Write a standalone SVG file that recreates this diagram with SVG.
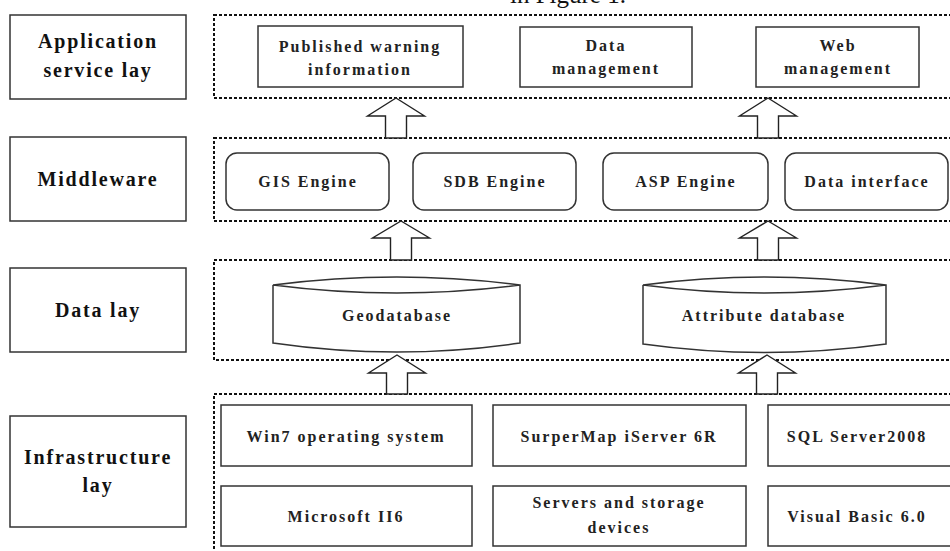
<svg xmlns="http://www.w3.org/2000/svg" width="950" height="551" viewBox="0 0 950 551">
<style>
.lbl{fill:#fff;stroke:#333;stroke-width:1.5}
.box{fill:#fff;stroke:#333;stroke-width:1.5}
.cont{fill:none;stroke:#111;stroke-width:2;stroke-dasharray:3 2}
.arr{fill:#fff;stroke:#222;stroke-width:1.4}
.lt{font-family:"Liberation Serif",serif;font-weight:bold;font-size:20px;letter-spacing:1.8px;text-anchor:middle;fill:#111}
.t{font-family:"Liberation Serif",serif;font-weight:bold;font-size:16px;letter-spacing:2px;text-anchor:middle;fill:#222}
</style>
<rect width="950" height="551" fill="#fff"/>
<text x="510" y="3" font-family="Liberation Serif,serif" font-size="25" fill="#111">in Figure 1.</text>

<g id="containers">
<rect class="cont" x="214" y="15" width="750" height="83"/>
<rect class="cont" x="214" y="138" width="750" height="83"/>
<rect class="cont" x="214" y="260" width="750" height="100"/>
<rect class="cont" x="214" y="394" width="750" height="170"/>
</g>

<g id="layer-app"><rect class="lbl" x="10" y="15" width="176" height="84"/><text class="lt" x="98" y="48">Application</text><text class="lt" x="98" y="77">service lay</text></g>
<g id="layer-mid"><rect class="lbl" x="10" y="137" width="176" height="84"/><text class="lt" x="98" y="186">Middleware</text></g>
<g id="layer-data"><rect class="lbl" x="10" y="268" width="176" height="84"/><text class="lt" x="98" y="317">Data lay</text></g>
<g id="layer-infra"><rect class="lbl" x="10" y="416" width="176" height="111"/><text class="lt" x="98" y="464">Infrastructure</text><text class="lt" x="98" y="492">lay</text></g>

<g id="n-pub"><rect class="box" x="258" y="26" width="205" height="61"/><text class="t" x="360" y="52">Published warning</text><text class="t" x="360" y="75">information</text></g>
<g id="n-dm"><rect class="box" x="520" y="27" width="172" height="60"/><text class="t" x="606" y="51">Data</text><text class="t" x="606" y="74">management</text></g>
<g id="n-wm"><rect class="box" x="756" y="27" width="163" height="60"/><text class="t" x="838" y="51">Web</text><text class="t" x="838" y="74">management</text></g>

<g id="n-gis"><rect class="box" x="226" y="153" width="163" height="57" rx="11"/><text class="t" x="308" y="187">GIS Engine</text></g>
<g id="n-sdb"><rect class="box" x="413" y="153" width="163" height="57" rx="11"/><text class="t" x="495" y="187">SDB Engine</text></g>
<g id="n-asp"><rect class="box" x="603" y="153" width="165" height="57" rx="11"/><text class="t" x="686" y="187">ASP Engine</text></g>
<g id="n-di"><rect class="box" x="785" y="153" width="163" height="57" rx="11"/><text class="t" x="867" y="187">Data interface</text></g>

<g id="n-geo"><path class="box" d="M273,285 L273,343 Q397,361 520,343 L520,285 Q397,269 273,285 Q397,301 520,285"/><text class="t" x="397" y="321">Geodatabase</text></g>
<g id="n-attr"><path class="box" d="M643,285 L643,344 Q764,361 886,344 L886,285 Q764,269 643,285 Q764,301 886,285"/><text class="t" x="764" y="321">Attribute database</text></g>

<g id="n-win"><rect class="box" x="221" y="405" width="251" height="61"/><text class="t" x="346" y="442">Win7 operating system</text></g>
<g id="n-iis"><rect class="box" x="221" y="486" width="251" height="60"/><text class="t" x="346" y="522">Microsoft II6</text></g>
<g id="n-sm"><rect class="box" x="493" y="405" width="253" height="61"/><text class="t" x="619" y="442">SurperMap  iServer 6R</text></g>
<g id="n-srv"><rect class="box" x="493" y="486" width="253" height="60"/><text class="t" x="619" y="508">Servers and storage</text><text class="t" x="619" y="533">devices</text></g>
<g id="n-sql"><rect class="box" x="768" y="405" width="190" height="61"/><text class="t" x="857" y="442">SQL Server2008</text></g>
<g id="n-vb"><rect class="box" x="768" y="486" width="190" height="60"/><text class="t" x="857" y="522">Visual Basic 6.0</text></g>

<g id="connectors">
<path class="arr" d="M396,98 L424.5,116 L406.5,116 L406.5,138 L385.5,138 L385.5,116 L367.5,116 Z"/>
<path class="arr" d="M768,98 L796.5,116 L778.5,116 L778.5,138 L757.5,138 L757.5,116 L739.5,116 Z"/>
<path class="arr" d="M401,221 L429.5,238 L411.5,238 L411.5,260 L390.5,260 L390.5,238 L372.5,238 Z"/>
<path class="arr" d="M768,221 L796.5,238 L778.5,238 L778.5,260 L757.5,260 L757.5,238 L739.5,238 Z"/>
<path class="arr" d="M397,355 L425.5,373 L407.5,373 L407.5,394 L386.5,394 L386.5,373 L368.5,373 Z"/>
<path class="arr" d="M767,355 L795.5,373 L777.5,373 L777.5,394 L756.5,394 L756.5,373 L738.5,373 Z"/>
</g>
</svg>
